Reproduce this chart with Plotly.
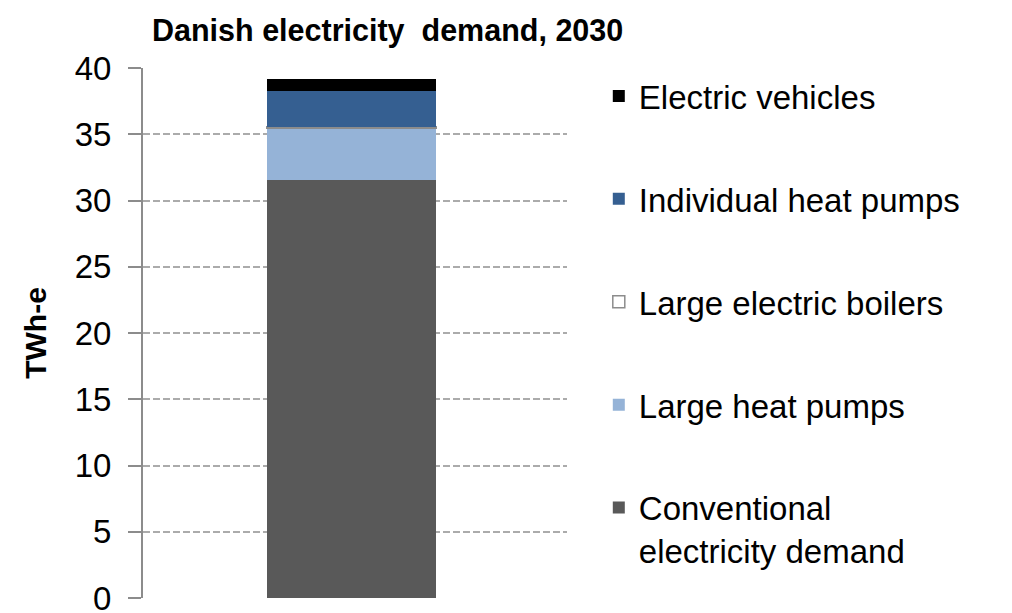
import plotly.graph_objects as go

# Danish electricity demand, 2030 (TWh-e), stacked from the bottom up
category = [""]
series_names = [
    "Conventional<br>electricity demand",
    "Large heat pumps",
    "Large electric boilers",
    "Individual heat pumps",
    "Electric vehicles",
]
series_values = [31.55, 3.9, 0.1, 2.75, 0.85]
series_colors = ["#595959", "#95B3D7", "#FFFFFF", "#355F91", "#000000"]
series_lines = ["#595959", "#95B3D7", "#8C8C8C", "#355F91", "#000000"]
y_ticks = [0, 5, 10, 15, 20, 25, 30, 35, 40]

FONT = "Liberation Sans, Arial, sans-serif"

fig = go.Figure()
n = len(series_names)
for i, (name, val, col, lc) in enumerate(zip(series_names, series_values, series_colors, series_lines)):
    fig.add_trace(go.Bar(
        x=category,
        y=[val],
        name=name,
        legendgroup=f"g{i}",
        legendrank=n - i,  # top segment listed first
        marker=dict(color=col, line=dict(color=lc, width=1.5 if col == "#FFFFFF" else 0)),
        width=0.4,
    ))

fig.update_layout(
    barmode="stack",
    width=1012,
    height=613,
    margin=dict(l=143, r=445, t=68, b=15, autoexpand=False),
    paper_bgcolor="white",
    plot_bgcolor="white",
    font=dict(family=FONT, color="black"),
    title=dict(
        text="<b>Danish electricity  demand, 2030</b>",
        font=dict(size=30.5, family=FONT, color="black"),
        x=152 / 1012, xanchor="left",
        y=1 - 30 / 613, yanchor="middle",
    ),
    legend=dict(
        x=1.075, xanchor="left",
        y=1.0, yanchor="top",
        font=dict(size=33, family=FONT, color="black"),
        traceorder="grouped",
        tracegroupgap=57,
        valign="top",
        bgcolor="rgba(0,0,0,0)",
    ),
    showlegend=True,
)

fig.update_xaxes(
    range=[-0.492, 0.508],
    showticklabels=False,
    showgrid=False,
    showline=False,
    zeroline=False,
    ticks="",
)
fig.update_yaxes(
    range=[0, 40],
    tickvals=y_ticks,
    tickfont=dict(size=33, family=FONT, color="black"),
    ticklabeloverflow="allow",
    ticklabelstandoff=10,
    automargin=False,
    showgrid=True,
    gridcolor="#ABABAB",
    griddash="7px,3px",
    gridwidth=2,
    zeroline=False,
    showline=True,
    linecolor="#8C8C8C",
    linewidth=2,
    ticks="outside",
    ticklen=13,
    tickwidth=2,
    tickcolor="#8C8C8C",
    title=dict(text="<b>TWh-e</b>", font=dict(size=30, family=FONT, color="black"), standoff=19),
)

fig.write_html("out.html")
